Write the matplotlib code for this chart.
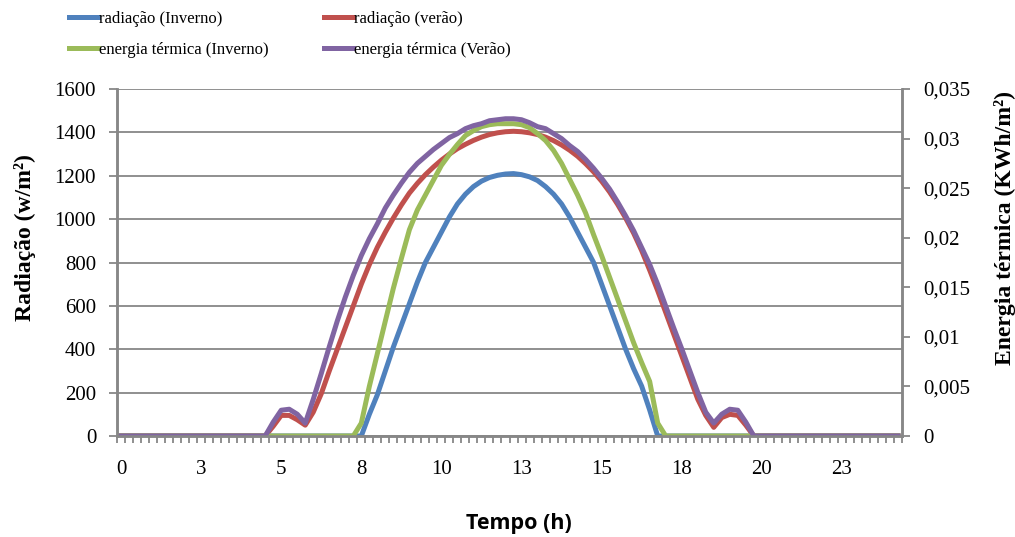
import numpy as np
import matplotlib
matplotlib.use('Agg')
import matplotlib.pyplot as plt
from matplotlib.ticker import FixedLocator, FuncFormatter

# ==============================================
# Data (time step 0.25 h, 0 .. 24.25 h)
# ==============================================
hours = np.arange(98) * 0.25

rad_inverno = [0] * 31 + [
    100, 190, 300, 410, 510, 610, 710, 800, 870, 940, 1010, 1070,
    1115, 1150, 1175, 1192, 1202, 1208, 1210, 1205, 1195, 1178, 1150, 1115,
    1070, 1010, 940, 870, 800, 700, 600, 500, 400, 310, 230, 120] + [0] * 31

rad_verao = [0] * 19 + [
    45, 95, 95, 75, 50, 110, 195, 300, 400, 500, 600, 700,
    790, 870, 940, 1005, 1065, 1120, 1165, 1205, 1240, 1272, 1300, 1325,
    1345, 1363, 1378, 1390, 1398, 1403, 1405, 1403, 1398, 1390, 1378, 1362,
    1342, 1318, 1290, 1256, 1218, 1175, 1125, 1068, 1005, 935, 855, 765,
    670, 570, 470, 370, 270, 170, 95, 40, 85, 100, 95, 50] + [0] * 19

# energia termica em KWh/m2 (eixo secundario)
term_inverno = [0] * 30 + [
    0.0013, 0.0050, 0.0083, 0.0116, 0.0149, 0.0179, 0.0208, 0.0228,
    0.0243, 0.0258, 0.0273, 0.0284, 0.0294, 0.0303, 0.0308, 0.0312,
    0.0314, 0.0315, 0.0315, 0.0315, 0.0314, 0.0311, 0.0305, 0.0298,
    0.0288, 0.0275, 0.0259, 0.0243, 0.0225, 0.0203, 0.0182, 0.0160,
    0.0138, 0.0116, 0.0094, 0.0074, 0.0055, 0.0013] + [0] * 30

term_verao = [0] * 19 + [
    0.0014, 0.0026, 0.0027, 0.0022, 0.0013, 0.0037, 0.0063, 0.0090,
    0.0116, 0.0140, 0.0162, 0.0182, 0.0199, 0.0214, 0.0230, 0.0243,
    0.0255, 0.0266, 0.0275, 0.0282, 0.0289, 0.0295, 0.0301, 0.0305,
    0.0310, 0.0313, 0.0315, 0.0318, 0.0319, 0.0320, 0.0320, 0.0319,
    0.0316, 0.0312, 0.0310, 0.0305, 0.0300, 0.0293, 0.0287, 0.0279,
    0.0270, 0.0260, 0.0249, 0.0236, 0.0222, 0.0207, 0.0190, 0.0173,
    0.0153, 0.0131, 0.0109, 0.0088, 0.0066, 0.0044, 0.0024, 0.0013,
    0.0022, 0.0027, 0.0026, 0.0014] + [0] * 19

xtick_pos = [0, 2.5, 5, 7.5, 10, 12.5, 15, 17.5, 20, 22.5]
xtick_labels = ['0', '3', '5', '8', '10', '13', '15', '18', '20', '23']

labels = ['radiação (Inverno)', 'radiação (verão)',
          'energia térmica (Inverno)', 'energia térmica (Verão)']
colors = ['#4F81BD', '#C0504D', '#9BBB59', '#8064A2']

# ==============================================
# Figure
# ==============================================
plt.rcParams['font.family'] = 'Liberation Serif'
grey = '#878787'

fig = plt.figure(figsize=(10.15, 5.37), dpi=100)
ax = fig.add_axes([117 / 1015, 1 - 436 / 537, 785 / 1015, 347 / 537])
ax2 = ax.twinx()

lw = 3.6
l1, = ax.plot(hours, rad_inverno, color=colors[0], lw=lw, solid_joinstyle='round')
l2, = ax.plot(hours, rad_verao, color=colors[1], lw=lw, solid_joinstyle='round')
l3, = ax2.plot(hours, term_inverno, color=colors[2], lw=lw, solid_joinstyle='round')
l4, = ax2.plot(hours, term_verao, color=colors[3], lw=lw, solid_joinstyle='round')

ax.set_xlim(-0.125, 24.375)
ax.set_ylim(0, 1600)
ax2.set_ylim(0, 0.035)

ax.set_yticks(np.arange(0, 1601, 200))
ax.grid(axis='y', color=grey, lw=1.3)
ax.set_axisbelow(True)

ax2.set_yticks(np.arange(0, 0.0351, 0.005))
ax2.yaxis.set_major_formatter(FuncFormatter(
    lambda v, p: '0' if abs(v) < 1e-9 else ('%g' % round(v, 3)).replace('.', ',')))

ax.xaxis.set_major_locator(FixedLocator(xtick_pos))
ax.set_xticklabels(xtick_labels)
ax.xaxis.set_minor_locator(FixedLocator(np.arange(-0.125, 24.4, 0.25)))
ax.tick_params(axis='x', which='major', length=0, pad=17, labelsize=15)
ax.tick_params(axis='x', which='minor', length=5, width=1.3, color=grey, direction='out')
ax.tick_params(axis='y', length=6, width=1.3, color=grey, pad=9, labelsize=15)
ax2.tick_params(axis='y', length=6, width=1.3, color=grey, pad=9, labelsize=15)

for a in (ax, ax2):
    a.spines['top'].set_visible(False)
    for s in ('left', 'right', 'bottom'):
        a.spines[s].set_color(grey)
        a.spines[s].set_linewidth(1.8)

# axis titles
fig.text(25 / 1015, 1 - 238 / 537, 'Radiação (w/m²)', rotation=90, fontsize=17,
         fontweight='bold', ha='center', va='center')
fig.text(1005 / 1015, 1 - 228 / 537, 'Energia térmica (KWh/m²)', rotation=90, fontsize=17,
         fontweight='bold', ha='center', va='center')
fig.text(519 / 1015, 1 - 523 / 537, 'Tempo (h)', fontsize=15.5, fontweight='bold',
         family='Open Sans', ha='center', va='center')

leg_kw = dict(loc='upper left', frameon=False, fontsize=12, handlelength=1.75,
              handletextpad=0.05, labelspacing=0.9, borderpad=0, borderaxespad=0)
fig.legend([l1, l3], [labels[0], labels[2]], bbox_to_anchor=(69 / 1015, 1 - 11 / 537), **leg_kw)
fig.legend([l2, l4], [labels[1], labels[3]], bbox_to_anchor=(324 / 1015, 1 - 11 / 537), **leg_kw)

fig.savefig('out.png', dpi=100)
